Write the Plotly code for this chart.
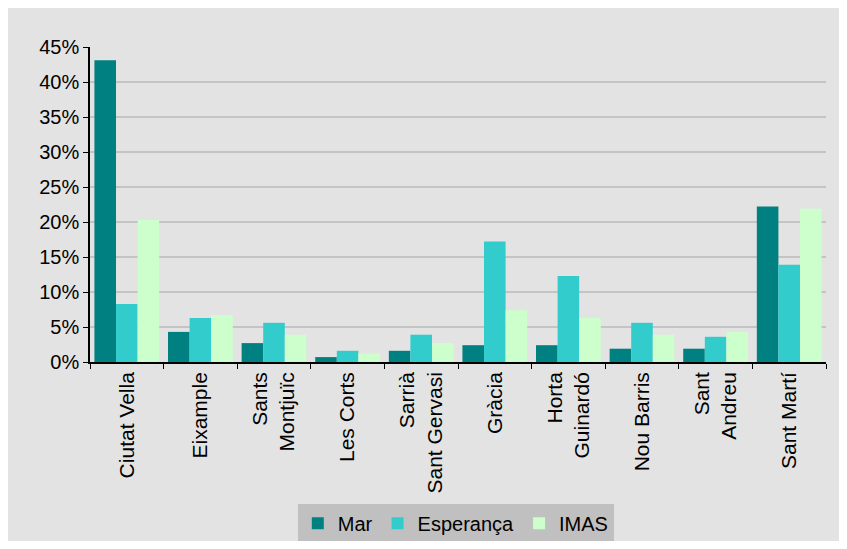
import plotly.graph_objects as go

categories = ["Ciutat Vella", "Eixample", "Sants<br>Montjuïc", "Les Corts",
              "Sarrià<br>Sant Gervasi", "Gràcia", "Horta<br>Guinardó",
              "Nou Barris", "Sant<br>Andreu", "Sant Martí"]
mar = [0.431, 0.043, 0.027, 0.007, 0.016, 0.024, 0.024, 0.019, 0.019, 0.222]
esperanca = [0.083, 0.063, 0.056, 0.016, 0.039, 0.172, 0.123, 0.056, 0.036, 0.139]
imas = [0.203, 0.067, 0.039, 0.012, 0.027, 0.074, 0.063, 0.039, 0.043, 0.219]

series = [("Mar", mar, "#008080"), ("Esperança", esperanca, "#33CCCC"), ("IMAS", imas, "#CCFFCC")]

fig = go.Figure()
for name, vals, col in series:
    fig.add_trace(go.Bar(x=categories, y=vals, name=name, marker=dict(color=col, line=dict(width=0))))

BG = "#E3E3E3"
fig.update_layout(
    width=839, height=533,
    margin=dict(l=82, r=21, t=39, b=179, autoexpand=False),
    paper_bgcolor=BG, plot_bgcolor=BG,
    font=dict(family="Liberation Sans, Arial", size=20, color="black"),
    barmode="group", bargap=0.12, bargroupgap=0,
    legend=dict(orientation="h", x=0.497, xanchor="center", y=-0.45, yanchor="top",
                bgcolor="#C0C0C0", font=dict(size=20)),
)
fig.update_xaxes(type="category", tickson="boundaries", ticks="outside", ticklen=5,
                 tickcolor="black", tickangle=-90, showline=True, linecolor="black",
                 linewidth=1.5, showgrid=False, tickfont=dict(size=21), automargin=False)
fig.update_yaxes(range=[0, 0.45], dtick=0.05, tickformat=".0%", ticks="outside", ticklen=5,
                 tickcolor="black", showline=True, linecolor="black", linewidth=1.5,
                 showgrid=True, gridcolor="#C4C4C4", gridwidth=2, zeroline=False,
                 automargin=False)

fig.write_html("out.html")
